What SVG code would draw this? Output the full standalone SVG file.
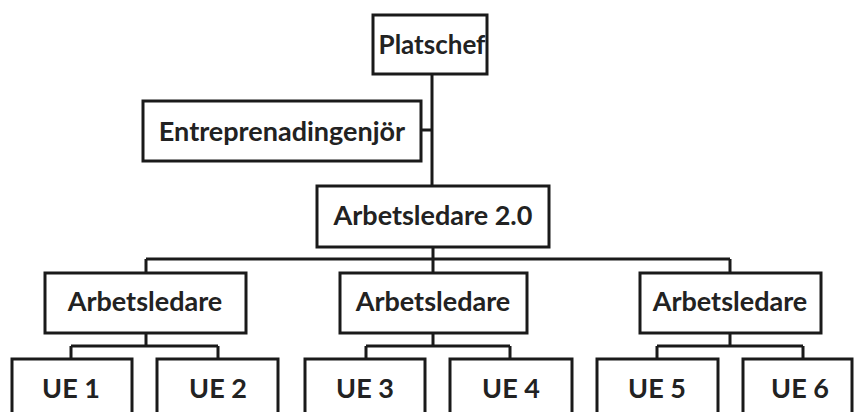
<svg xmlns="http://www.w3.org/2000/svg" width="854" height="412" viewBox="0 0 854 412">
<style>
.box{fill:#fff;stroke:#1a1a1a;stroke-width:3}
.t{font-family:Lato,"Open Sans",sans-serif;font-weight:bold;font-size:27px;fill:#222;text-anchor:middle}
.c{fill:none;stroke:#1a1a1a;stroke-width:3}
</style>
<rect width="854" height="412" fill="#fff"/>
<g id="connectors">
<path class="c" d="M432 74V186M421 130H432"/>
<path class="c" d="M433 247V259M146 259H730M146 259V273M433 259V273M730 259V273"/>
<path class="c" d="M146 333V346M71 346H218M71 346V359M218 346V359"/>
<path class="c" d="M433 333V346M366 346H510M366 346V359M510 346V359"/>
<path class="c" d="M730 333V346M657 346H803M657 346V359M803 346V359"/>
</g>
<g id="platschef"><rect class="box" x="373" y="15" width="114" height="59"/><text class="t" x="432" y="54" style="font-size:26px">Platschef</text></g>
<g id="entreprenadingenjor"><rect class="box" x="143" y="101" width="278" height="60"/><text class="t" x="282" y="141">Entreprenadingenjör</text></g>
<g id="arbetsledare20"><rect class="box" x="317" y="186" width="232" height="61"/><text class="t" x="433" y="225">Arbetsledare 2.0</text></g>
<g id="arbetsledare1"><rect class="box" x="45" y="273" width="201" height="60"/><text class="t" x="145" y="311">Arbetsledare</text></g>
<g id="arbetsledare2"><rect class="box" x="340" y="273" width="187" height="60"/><text class="t" x="433" y="311">Arbetsledare</text></g>
<g id="arbetsledare3"><rect class="box" x="640" y="273" width="181" height="60"/><text class="t" x="730" y="311">Arbetsledare</text></g>
<g id="ue1"><rect class="box" x="12" y="359" width="120" height="60"/><text class="t" x="71" y="398">UE 1</text></g>
<g id="ue2"><rect class="box" x="157" y="359" width="121" height="60"/><text class="t" x="218" y="398">UE 2</text></g>
<g id="ue3"><rect class="box" x="305" y="359" width="120" height="60"/><text class="t" x="365" y="398">UE 3</text></g>
<g id="ue4"><rect class="box" x="450" y="359" width="122" height="60"/><text class="t" x="511" y="398">UE 4</text></g>
<g id="ue5"><rect class="box" x="597" y="359" width="121" height="60"/><text class="t" x="657" y="398">UE 5</text></g>
<g id="ue6"><rect class="box" x="743" y="359" width="109" height="60"/><text class="t" x="800" y="398">UE 6</text></g>
</svg>
